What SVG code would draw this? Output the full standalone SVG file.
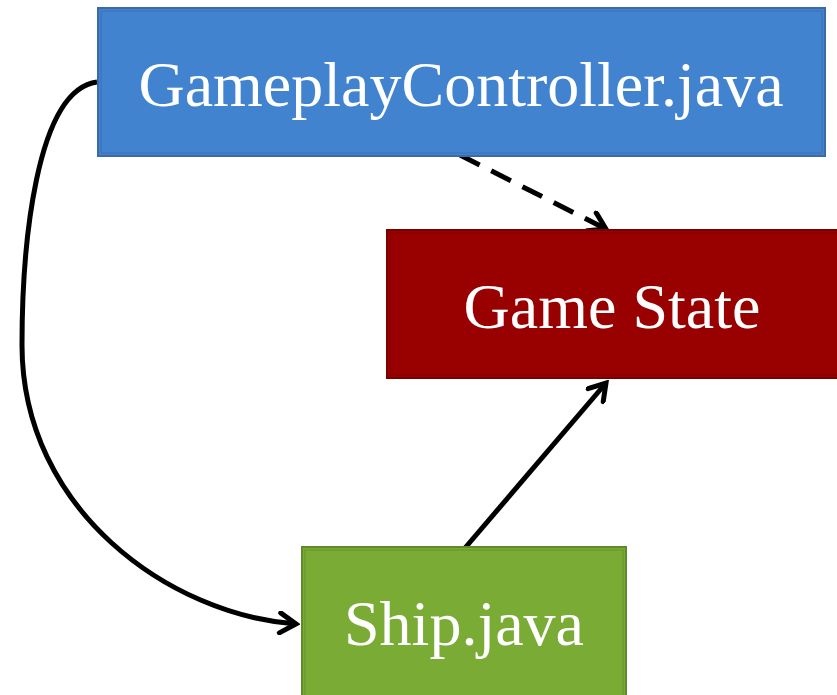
<svg xmlns="http://www.w3.org/2000/svg" width="837" height="695" viewBox="0 0 837 695">
<style>
.lbl{font-family:"Liberation Serif","Times New Roman",serif;font-size:64px;fill:#ffffff;text-anchor:middle}
.edge{fill:none;stroke:#000;stroke-width:5}
</style>
<defs>
<marker id="arr" markerUnits="userSpaceOnUse" viewBox="-20 -12 24 24" markerWidth="24" markerHeight="24" refX="0" refY="0" orient="auto">
<path d="M-16,-10 L0,0 L-16,10" fill="none" stroke="#000" stroke-width="5" stroke-linecap="round" stroke-linejoin="miter"/>
</marker>
</defs>
<rect width="837" height="695" fill="#ffffff"/>
<g id="connectors">
<path class="edge" d="M97,82 C35,90 22,250 22,345 C22,510 170,615 296,624" marker-end="url(#arr)"/>
<path class="edge" d="M460,155 L606,229" stroke-dasharray="22,13" marker-end="url(#arr)"/>
<path class="edge" d="M465,548 L606,383" marker-end="url(#arr)"/>
</g>
<g id="gameplay">
<rect x="98" y="8" width="727" height="148" fill="#4283cf" stroke="#3a6aa8" stroke-width="2"/>
<rect x="101" y="11" width="721" height="142" fill="none" stroke="#3f77bd" stroke-width="1.5"/>
<text class="lbl" x="461" y="106">GameplayController.java</text>
</g>
<g id="gamestate">
<rect x="387" y="230" width="452" height="148" fill="#990000" stroke="#7a0000" stroke-width="2"/>
<rect x="390" y="233" width="450" height="142" fill="none" stroke="#880000" stroke-width="1.5"/>
<text class="lbl" x="612" y="328">Game State</text>
</g>
<g id="ship">
<rect x="302" y="547" width="324" height="150" fill="#79ab35" stroke="#5f8a2a" stroke-width="2"/>
<rect x="305" y="550" width="318" height="150" fill="none" stroke="#6c9a30" stroke-width="1.5"/>
<text class="lbl" x="464" y="645">Ship.java</text>
</g>
</svg>
